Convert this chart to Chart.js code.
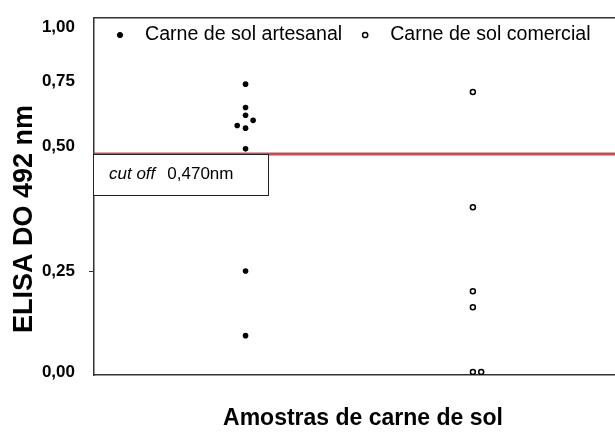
<!DOCTYPE html>
<html>
<head>
<meta charset="utf-8">
<script src="https://cdn.jsdelivr.net/npm/chart.js@4/dist/chart.umd.min.js"></script>
<style>
  html, body { margin: 0; padding: 0; background: #fff; overflow: hidden; }
  #wrap { width: 640px; height: 432px; }
</style>
</head>
<body>
<div id="wrap"><canvas id="elisaChart" width="640" height="432"></canvas></div>
<script>
// data
const categories = ["Carne de sol artesanal", "Carne de sol comercial"];
const groupPositions = [1, 2.5];
const artesanalValues = [0.74, 0.65, 0.62, 0.58, 0.60, 0.57, 0.49, 0.25, 0.09];
const artesanalJitter = [0, 0, 0, -0.055, 0.05, 0, 0, 0, 0];
const comercialValues = [0.71, 0.37, 0.20, 0.16, 0.00, 0.00];
const comercialJitter = [0, 0, 0, 0, 0, 0.055];
const yTicks = [0, 0.25, 0.5, 0.75, 1];
const CUTOFF = 0.47;

const FONT = "Arial, 'Liberation Sans', sans-serif";
const AXIS_COLOR = "#333";
const X_MIN = 0, X_MAX = 3.55;

// the printed axis is not evenly spaced, so the y scale is piecewise linear
const KNOT_VALUES = [-0.01, 0, 0.25, 0.47, 0.75, 1.0, 1.04];
const KNOT_FRACS = [0, 0.0084, 0.2913, 0.619, 0.822, 0.975, 1];

function interp(v, from, to) {
    if (v <= from[0]) return to[0];
    for (let i = 1; i < from.length; i++) {
        if (v <= from[i]) {
            const t = (v - from[i - 1]) / (from[i] - from[i - 1]);
            return to[i - 1] + t * (to[i] - to[i - 1]);
        }
    }
    return to[to.length - 1];
}

class KnotScale extends Chart.LinearScale {
    getPixelForValue(value) {
        if (value === null || value === undefined || isNaN(value)) return NaN;
        return this.getPixelForDecimal(interp(value, KNOT_VALUES, KNOT_FRACS));
    }
    getValueForPixel(pixel) {
        return interp(this.getDecimalForPixel(pixel), KNOT_FRACS, KNOT_VALUES);
    }
}
KnotScale.id = "knots";
KnotScale.defaults = {};
Chart.register(KnotScale);

function toPoints(values, jitter, group) {
    return values.map((v, i) => ({ x: groupPositions[group] + jitter[i], y: v }));
}

const fmt = (v, d) => v.toFixed(d).replace(".", ",");

function noPad(s) {
    s.paddingTop = 0;
    s.paddingBottom = 0;
    s.paddingLeft = 0;
    s.paddingRight = 0;
}

// legend drawn inside the plot, like the original
const dotLegend = {
    id: "dotLegend",
    afterDraw(chart) {
        const { ctx, chartArea } = chart;
        const y = chartArea.top + 17;
        let x = chartArea.left + 26;
        ctx.save();
        ctx.font = "19.6px " + FONT;
        ctx.textBaseline = "middle";
        chart.data.datasets.forEach((ds) => {
            if (!ds.inLegend) return;
            ctx.beginPath();
            ctx.arc(x, y, 2.6, 0, Math.PI * 2);
            ctx.fillStyle = ds.pointBackgroundColor;
            ctx.fill();
            ctx.lineWidth = ds.pointBorderWidth;
            ctx.strokeStyle = ds.pointBorderColor;
            ctx.stroke();
            ctx.fillStyle = "#000";
            ctx.fillText(ds.label, x + 25, y);
            x += 25 + ctx.measureText(ds.label).width + 23;
        });
        ctx.restore();
    }
};

// cut off label box under the red line
const cutoffBox = {
    id: "cutoffBox",
    afterDatasetsDraw(chart) {
        const { ctx, chartArea, scales } = chart;
        const y = Math.round(scales.y.getPixelForValue(CUTOFF));
        const left = chartArea.left - 1;
        ctx.save();
        ctx.fillStyle = "#fff";
        ctx.fillRect(left, y, 175, 41);
        ctx.strokeStyle = "#222";
        ctx.lineWidth = 1;
        ctx.strokeRect(left + 0.5, y + 0.5, 175, 41);
        ctx.fillStyle = "#000";
        ctx.textBaseline = "middle";
        ctx.font = "italic 17px " + FONT;
        ctx.fillText("cut off", left + 16, y + 20);
        const w = ctx.measureText("cut off").width;
        ctx.font = "17px " + FONT;
        ctx.fillText(fmt(CUTOFF, 3) + "nm", left + 16 + w + 12, y + 20);
        ctx.restore();
    }
};

document.addEventListener("DOMContentLoaded", function () {
    const ctx = document.getElementById("elisaChart");
    new Chart(ctx, {
        type: "scatter",
        data: {
            datasets: [
                {
                    label: categories[0],
                    inLegend: true,
                    data: toPoints(artesanalValues, artesanalJitter, 0),
                    pointRadius: 2.8,
                    pointBackgroundColor: "#000",
                    pointBorderColor: "#000",
                    pointBorderWidth: 0,
                },
                {
                    label: categories[1],
                    inLegend: true,
                    data: toPoints(comercialValues, comercialJitter, 1),
                    pointRadius: 2.5,
                    pointBackgroundColor: "#fff",
                    pointBorderColor: "#000",
                    pointBorderWidth: 1.5,
                },
                {
                    label: "cut off",
                    type: "line",
                    showLine: true,
                    data: [{ x: X_MIN, y: CUTOFF }, { x: X_MAX, y: CUTOFF }],
                    borderColor: "#c0504d",
                    borderWidth: 3,
                    pointRadius: 0,
                },
            ],
        },
        options: {
            responsive: false,
            animation: false,
            layout: { padding: { left: 0, right: 8, top: 0, bottom: 0 } },
            plugins: {
                legend: { display: false },
                tooltip: { enabled: false },
            },
            scales: {
                x: {
                    type: "linear",
                    min: X_MIN,
                    max: X_MAX,
                    ticks: { display: false },
                    grid: { display: false },
                    border: { color: AXIS_COLOR, width: 1.5 },
                    title: {
                        display: true,
                        text: "Amostras de carne de sol",
                        color: "#000",
                        font: { family: FONT, size: 23, weight: "bold" },
                        padding: { top: 0, bottom: 0 },
                    },
                    afterFit: (s) => { s.height = 57; noPad(s); },
                },
                x2: {
                    type: "linear",
                    position: "top",
                    min: X_MIN,
                    max: X_MAX,
                    ticks: { display: false },
                    grid: { display: false },
                    border: { color: AXIS_COLOR, width: 1.5 },
                    afterFit: (s) => { s.height = 18; noPad(s); },
                },
                y: {
                    type: "knots",
                    min: -0.01,
                    max: 1.04,
                    afterBuildTicks: (s) => { s.ticks = yTicks.map((v) => ({ value: v })); },
                    ticks: {
                        callback: (v) => fmt(v, 2),
                        color: "#000",
                        padding: 14,
                        font: { family: FONT, size: 17, weight: "bold" },
                    },
                    grid: {
                        drawOnChartArea: false,
                        tickLength: 5,
                        tickColor: (c) => (c.tick && c.tick.value === 0.25 ? AXIS_COLOR : "rgba(0,0,0,0)"),
                    },
                    border: { color: AXIS_COLOR, width: 1.5 },
                    title: {
                        display: true,
                        // trailing spaces push the centred title down, as in the original
                        text: "ELISA DO 492 nm      ",
                        color: "#000",
                        font: { family: FONT, size: 27, weight: "bold" },
                        padding: { top: 8, bottom: 0 },
                    },
                    afterFit: (s) => { s.width = 94; noPad(s); },
                },
            },
        },
        plugins: [cutoffBox, dotLegend],
    });
});
</script>
</body>
</html>
